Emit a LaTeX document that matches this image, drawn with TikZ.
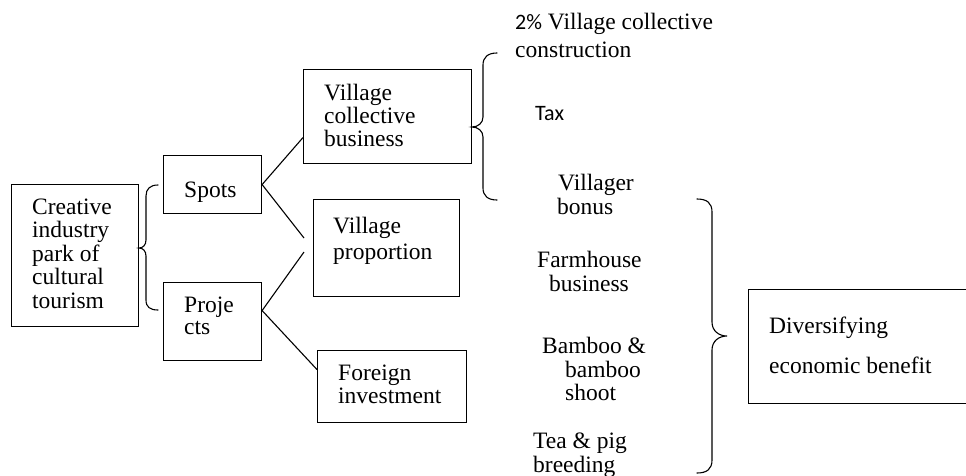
\documentclass[tikz,border=0pt]{standalone}
\usepackage{fontspec}
\setmainfont{Liberation Serif}
\newfontfamily\calib{Carlito}
\begin{document}
\begin{tikzpicture}[x=1pt,y=-1pt,
  box/.style={draw, line width=1.1pt, inner sep=0pt, anchor=north west},
  lbl/.style={anchor=base west, inner sep=0pt, font=\fontsize{23.5}{24}\selectfont},
  sans/.style={anchor=base west, inner sep=0pt, font=\calib\fontsize{22}{24}\selectfont},
  brace/.style={line width=1.1pt, line cap=round},
  link/.style={line width=1.1pt}]
\useasboundingbox[fill=white] (0,0) rectangle (966,475);

% boxes
\node[box, minimum width=127pt, minimum height=142pt] (park) at (11,184) {};
\node[box, minimum width=98pt,  minimum height=58pt]  (spots) at (163,155) {};
\node[box, minimum width=98pt,  minimum height=78pt]  (proj) at (163,282) {};
\node[box, minimum width=168pt, minimum height=94pt]  (vcb) at (303,69) {};
\node[box, minimum width=146pt, minimum height=97pt]  (vp) at (313,199) {};
\node[box, minimum width=149pt, minimum height=72pt]  (fi) at (317,350) {};
\node[box, minimum width=222pt, minimum height=114pt] (div) at (748,289) {};

% box texts
\node[lbl] (park1) at (32,214) {Creative};
\node[lbl] (park2) at (32,237.5) {industry};
\node[lbl] (park3) at (32,261) {park of};
\node[lbl] (park4) at (32,284.5) {cultural};
\node[lbl] (park5) at (32,308) {tourism};
\node[lbl] (spots1) at (184,197) {Spots};
\node[lbl] (proj1) at (184,312) {Proje};
\node[lbl] (proj2) at (184,334) {cts};
\node[lbl] (vcb1) at (324,100) {Village};
\node[lbl] (vcb2) at (324,123) {collective};
\node[lbl] (vcb3) at (324,146) {business};
\node[lbl] (vp1) at (333,233) {Village};
\node[lbl] (vp2) at (333,259) {proportion};
\node[lbl] (fi1) at (338,380) {Foreign};
\node[lbl] (fi2) at (338,403) {investment};
\node[lbl] (div1) at (769,333) {Diversifying};
\node[lbl] (div2) at (769,373) {economic benefit};

% free labels
\node[lbl] (col1) at (515,29) {{\calib\fontsize{22}{24}\selectfont 2\%} Village collective};
\node[lbl] (col2) at (515,57) {construction};
\node[sans] (tax) at (535,120) {Tax};
\node[lbl] (bon1) at (558,190) {Villager};
\node[lbl] (bon2) at (557,214) {bonus};
\node[lbl] (farm1) at (537,267) {Farmhouse};
\node[lbl] (farm2) at (549,291) {business};
\node[lbl] (bam1) at (542,353) {Bamboo \&};
\node[lbl] (bam2) at (565,377) {bamboo};
\node[lbl] (bam3) at (565,400) {shoot};
\node[lbl] (tea1) at (533,448) {Tea \& pig};
\node[lbl] (tea2) at (533,472) {breeding};

% connectors
\coordinate (vpa) at (304,238);
\coordinate (vpb) at (304,252);
\draw[link] (spots.east) -- ([yshift=-21pt]vcb.west);
\draw[link] (spots.east) -- (vpa);
\draw[link] ([yshift=11pt]proj.east) -- (vpb);
\draw[link] ([yshift=11pt]proj.east) -- ([yshift=17pt]fi.west);

% braces
\draw[brace] (158,185) .. controls (150,185) and (146,189) .. (146,196) -- (146,240)
  .. controls (146,245) and (143,248) .. (139,248)
  .. controls (143,248) and (146,251) .. (146,256) -- (146,300)
  .. controls (146,307) and (150,310) .. (158,310);
\draw[brace] (497,53) .. controls (488,53) and (483,57) .. (483,65) -- (483,117)
  .. controls (483,123) and (478,127) .. (472,127)
  .. controls (478,127) and (483,131) .. (483,137) -- (483,188)
  .. controls (483,196) and (488,200) .. (497,200);
\draw[brace] (697,199) .. controls (707,199) and (712,203) .. (712,212) -- (712,322)
  .. controls (712,331) and (719,336) .. (727,336)
  .. controls (719,336) and (712,341) .. (712,350) -- (712,460)
  .. controls (712,469) and (707,473) .. (697,473);
\end{tikzpicture}
\end{document}
